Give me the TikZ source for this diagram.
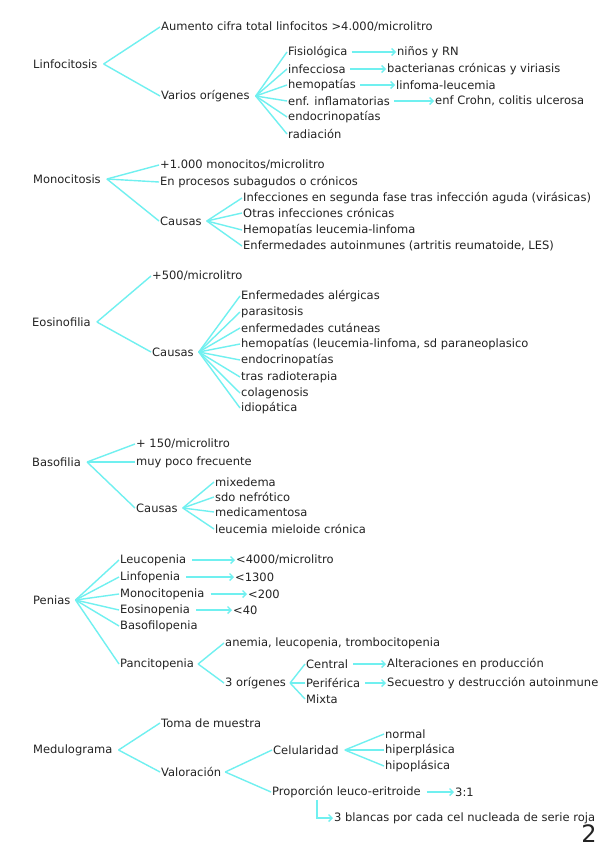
\documentclass[tikz,border=0pt]{standalone}
\usepackage{fontspec}
\setmainfont{DejaVu Sans}
\usetikzlibrary{arrows.meta}
\definecolor{lc}{RGB}{112,240,240}
\definecolor{txt}{RGB}{35,35,35}
\begin{document}
\begin{tikzpicture}[x=1pt,y=-1pt,
  lbl/.style={anchor=west, inner sep=1pt, text=txt, font=\fontsize{11.5}{13}\selectfont},
  br/.style={draw=lc, line width=1.4pt},
  ar/.style={br, -{Straight Barb[length=3.5pt,width=7pt]}}]
\useasboundingbox[fill=white] (0,0) rectangle (599,848);
% ---------- Linfocitosis
\node[lbl] (lin) at (32,64) {Linfocitosis};
\node[lbl] (lin1) at (160,27) {Aumento cifra total linfocitos >4.000/microlitro};
\node[lbl] (lin2) at (160,96) {Varios orígenes};
\node[lbl] (fis) at (287,52) {Fisiológica};
\node[lbl] (inf) at (287,69) {infecciosa};
\node[lbl] (hem) at (287,85) {hemopatías};
\node[lbl] (enf) at (287,101) {enf. inflamatorias};
\node[lbl] (endo) at (287,117) {endocrinopatías};
\node[lbl] (rad) at (287,134) {radiación};
\node[lbl] (fisr) at (396,52) {niños y RN};
\node[lbl] (infr) at (386,69) {bacterianas crónicas y viriasis};
\node[lbl] (hemr) at (395,85) {linfoma-leucemia};
\node[lbl] (enfr) at (434,101) {enf Crohn, colitis ulcerosa};
\foreach \c in {lin1,lin2} \draw[br] ([xshift=5pt]lin.east) -- (\c.west);
\foreach \c in {fis,inf,hem,enf,endo,rad} \draw[br] ([xshift=5pt]lin2.east) -- (\c.west);
\draw[ar] ([xshift=3pt]fis.east) -- (fisr.west);
\draw[ar] ([xshift=3pt]inf.east) -- (infr.west);
\draw[ar] ([xshift=3pt]hem.east) -- (hemr.west);
\draw[ar] ([xshift=3pt]enf.east) -- (enfr.west);
% ---------- Monocitosis
\node[lbl] (mon) at (32,179) {Monocitosis};
\node[lbl] (mon1) at (159,165) {+1.000 monocitos/microlitro};
\node[lbl] (mon2) at (159,182) {En procesos subagudos o crónicos};
\node[lbl] (monc) at (159,221) {Causas};
\node[lbl] (m1) at (242,198) {Infecciones en segunda fase tras infección aguda (virásicas)};
\node[lbl] (m2) at (242,213) {Otras infecciones crónicas};
\node[lbl] (m3) at (242,230) {Hemopatías leucemia-linfoma};
\node[lbl] (m4) at (242,246) {Enfermedades autoinmunes (artritis reumatoide, LES)};
\foreach \c in {mon1,mon2,monc} \draw[br] ([xshift=5pt]mon.east) -- (\c.west);
\foreach \c in {m1,m2,m3,m4} \draw[br] ([xshift=4pt]monc.east) -- (\c.west);
% ---------- Eosinofilia
\node[lbl] (eos) at (31,322) {Eosinofilia};
\node[lbl] (eos1) at (151,276) {+500/microlitro};
\node[lbl] (eosc) at (151,352) {Causas};
\node[lbl] (e1) at (240,296) {Enfermedades alérgicas};
\node[lbl] (e2) at (240,312) {parasitosis};
\node[lbl] (e3) at (240,328) {enfermedades cutáneas};
\node[lbl] (e4) at (240,344) {hemopatías (leucemia-linfoma, sd paraneoplasico};
\node[lbl] (e5) at (240,360) {endocrinopatías};
\node[lbl] (e6) at (240,377) {tras radioterapia};
\node[lbl] (e7) at (240,393) {colagenosis};
\node[lbl] (e8) at (240,408) {idiopática};
\foreach \c in {eos1,eosc} \draw[br] ([xshift=5pt]eos.east) -- (\c.west);
\foreach \c in {e1,e2,e3,e4,e5,e6,e7,e8} \draw[br] ([xshift=4pt]eosc.east) -- (\c.west);
% ---------- Basofilia
\node[lbl] (bas) at (31,462) {Basofilia};
\node[lbl] (bas1) at (135,444) {+ 150/microlitro};
\node[lbl] (bas2) at (135,462) {muy poco frecuente};
\node[lbl] (basc) at (135,508) {Causas};
\node[lbl] (b1) at (214,482) {mixedema};
\node[lbl] (b2) at (214,497) {sdo nefrótico};
\node[lbl] (b3) at (214,512) {medicamentosa};
\node[lbl] (b4) at (214,529) {leucemia mieloide crónica};
\foreach \c in {bas1,bas2,basc} \draw[br] ([xshift=5pt]bas.east) -- (\c.west);
\foreach \c in {b1,b2,b3,b4} \draw[br] ([xshift=4pt]basc.east) -- (\c.west);
% ---------- Penias
\node[lbl] (pen) at (32,600) {Penias};
\node[lbl] (p1) at (119,560) {Leucopenia};
\node[lbl] (p2) at (119,577) {Linfopenia};
\node[lbl] (p3) at (119,594) {Monocitopenia};
\node[lbl] (p4) at (119,610) {Eosinopenia};
\node[lbl] (p5) at (119,626) {Basofilopenia};
\node[lbl] (p6) at (119,664) {Pancitopenia};
\node[lbl] (p1r) at (235,560) {<4000/microlitro};
\node[lbl] (p2r) at (234,577) {<1300};
\node[lbl] (p3r) at (247,594) {<200};
\node[lbl] (p4r) at (232,610) {<40};
\node[lbl] (pa) at (224,643) {anemia, leucopenia, trombocitopenia};
\node[lbl] (po) at (224,683) {3 orígenes};
\node[lbl] (pc) at (305,664) {Central};
\node[lbl] (pp) at (305,683) {Periférica};
\node[lbl] (pm) at (305,699) {Mixta};
\node[lbl] (pcr) at (386,664) {Alteraciones en producción};
\node[lbl] (ppr) at (386,683) {Secuestro y destrucción autoinmune};
\foreach \c in {p1,p2,p3,p4,p5,p6} \draw[br] ([xshift=4pt]pen.east) -- (\c.west);
\draw[ar] ([xshift=5pt]p1.east) -- (p1r.west);
\draw[ar] ([xshift=5pt]p2.east) -- (p2r.west);
\draw[ar] ([xshift=5pt]p3.east) -- (p3r.west);
\draw[ar] ([xshift=5pt]p4.east) -- (p4r.west);
\foreach \c in {pa,po} \draw[br] ([xshift=3pt]p6.east) -- (\c.west);
\foreach \c in {pc,pp,pm} \draw[br] ([xshift=3pt]po.east) -- (\c.west);
\draw[ar] ([xshift=4pt]pc.east) -- (pcr.west);
\draw[ar] ([xshift=4pt]pp.east) -- (ppr.west);
% ---------- Medulograma
\node[lbl] (med) at (32,750) {Medulograma};
\node[lbl] (med1) at (160,723) {Toma de muestra};
\node[lbl] (med2) at (160,772) {Valoración};
\node[lbl] (cel) at (272,750) {Celularidad};
\node[lbl] (n1) at (384,734) {normal};
\node[lbl] (n2) at (384,750) {hiperplásica};
\node[lbl] (n3) at (384,766) {hipoplásica};
\node[lbl] (prop) at (271,792) {Proporción leuco-eritroide};
\node[lbl] (r31) at (454,792) {3:1};
\node[lbl] (blan) at (333,818) {3 blancas por cada cel nucleada de serie roja};
\coordinate (ec) at (317,800);
\foreach \c in {med1,med2} \draw[br] ([xshift=5pt]med.east) -- (\c.west);
\foreach \c in {cel,prop} \draw[br] ([xshift=3pt]med2.east) -- (\c.west);
\foreach \c in {n1,n2,n3} \draw[br] ([xshift=5pt]cel.east) -- (\c.west);
\draw[ar] ([xshift=5pt]prop.east) -- (r31.west);
\draw[ar] (ec) |- (blan.west);
% page number
\node[text=txt, inner sep=0pt, font=\fontsize{24}{24}\selectfont] (pg) at (589,834) {2};
\end{tikzpicture}
\end{document}
